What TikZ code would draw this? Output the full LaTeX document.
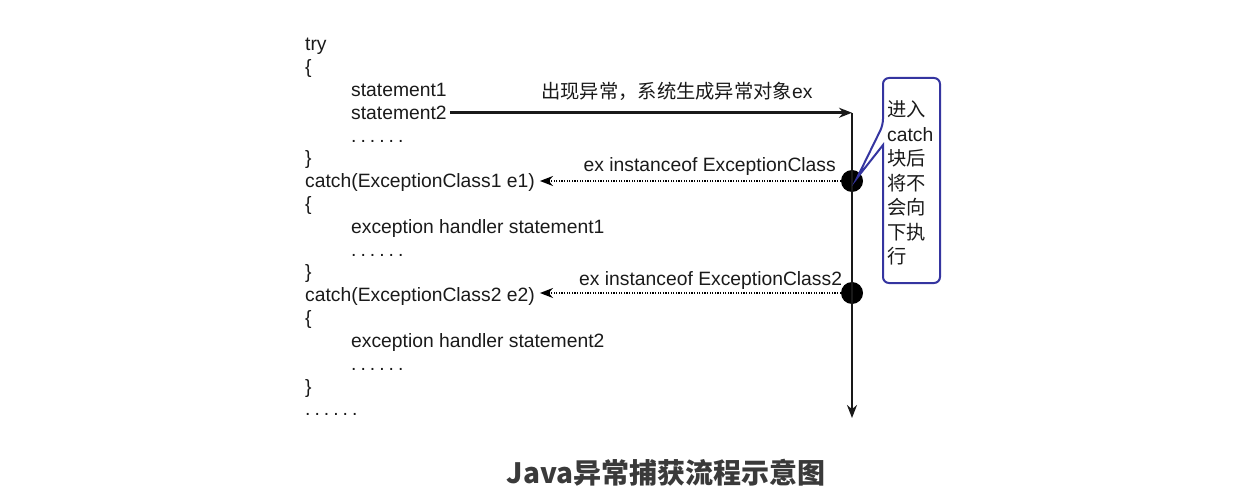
\documentclass[tikz,border=0pt]{standalone}
\usepackage{fontspec}
\setmainfont{Liberation Sans}
\newfontfamily\cjk{Noto Sans CJK SC}
\usetikzlibrary{arrows.meta,calc}
\definecolor{txt}{HTML}{1A1A1A}
\definecolor{capc}{HTML}{3A3A3A}
\definecolor{callc}{HTML}{3535A0}
\newcommand\mydots{.\kern4pt.\kern4pt.\kern4pt.\kern4pt.\kern4pt.}
\begin{document}
\begin{tikzpicture}[x=1pt,y=-1pt,
  code/.style={anchor=base west,inner sep=0pt,font=\fontsize{19.3}{23}\selectfont,text=txt},
  lblr/.style={anchor=base east,inner sep=0pt,font=\fontsize{19.3}{23}\selectfont,text=txt},
  flow/.style={line width=2.6pt,draw=black!90,-{Stealth[length=13pt,width=10pt]}},
  test/.style={dash pattern=on 1.3pt off 1.3pt,line width=1.6pt,draw=black,-{Stealth[length=13pt,width=10pt]}},
  bigdot/.style={circle,fill=black,minimum size=22pt,inner sep=0pt},
  callbox/.style={draw=callc,line width=2pt}]
\useasboundingbox (0,0) rectangle (1236,494);
% code lines
\node[code] (t0) at (305,51) {try};
\node[code] (t1) at (305,73.8) {\{};
\node[code] (s1) at (351,96.6) {statement1};
\node[code] (s2) at (351,119.4) {statement2};
\node[code] (s3) at (351,142.2) {\mydots};
\node[code] (t2) at (305,165) {\}};
\node[code] (c1) at (305,187.8) {catch(ExceptionClass1 e1)};
\node[code] (t3) at (305,210.6) {\{};
\node[code] (h1) at (351,233.4) {exception handler statement1};
\node[code] (h1d) at (351,256.2) {\mydots};
\node[code] (t4) at (305,279) {\}};
\node[code] (c2) at (305,301.8) {catch(ExceptionClass2 e2)};
\node[code] (t5) at (305,324.6) {\{};
\node[code] (h2) at (351,347.4) {exception handler statement2};
\node[code] (h2d) at (351,370.2) {\mydots};
\node[code] (t6) at (305,393) {\}};
\node[code] (t7) at (305,415.8) {\mydots};
% flow
\node[bigdot] (d1) at (852,181) {};
\node[bigdot] (d2) at (852,293) {};
\coordinate (top) at (s2.east -| d1);
\coordinate (bot) at (852,418);
\draw[flow] ($(s2.east)+(3,0)$) -- (top);
\draw[flow] (top) -- (bot);
\draw[test] (d1.west) -- ($(d1.west -| c1.east)+(5,0)$);
\draw[test] (d2.west) -- ($(d2.west -| c2.east)+(5,0)$);
% labels
\node[code] (la) at (541,99) {{\cjk 出现异常，系统生成异常对象}ex};
\node[lblr] (lb) at (836,172) {ex instanceof ExceptionClass};
\node[code] (lc) at (579,285) {ex instanceof ExceptionClass2};
% callout
\draw[callbox,rounded corners=6pt] (883,145) -- (883,283) -- (940,283) -- (940,78) -- (883,78) -- (883,125) [sharp corners] -- ($(d1.center)+(5,-3)$) -- cycle;
\node[code] (k1) at (887,117) {\cjk 进入};
\node[code] (k2) at (887,141.5) {catch};
\node[code] (k3) at (887,166) {\cjk 块后};
\node[code] (k4) at (887,190.5) {\cjk 将不};
\node[code] (k5) at (887,215) {\cjk 会向};
\node[code] (k6) at (887,239.5) {\cjk 下执};
\node[code] (k7) at (887,264) {\cjk 行};
% caption
\node[anchor=base,inner sep=0pt,text=capc,font=\cjk\bfseries\fontsize{28}{30}\selectfont] (cap) at (666,483) {Java异常捕获流程示意图};
\end{tikzpicture}
\end{document}
